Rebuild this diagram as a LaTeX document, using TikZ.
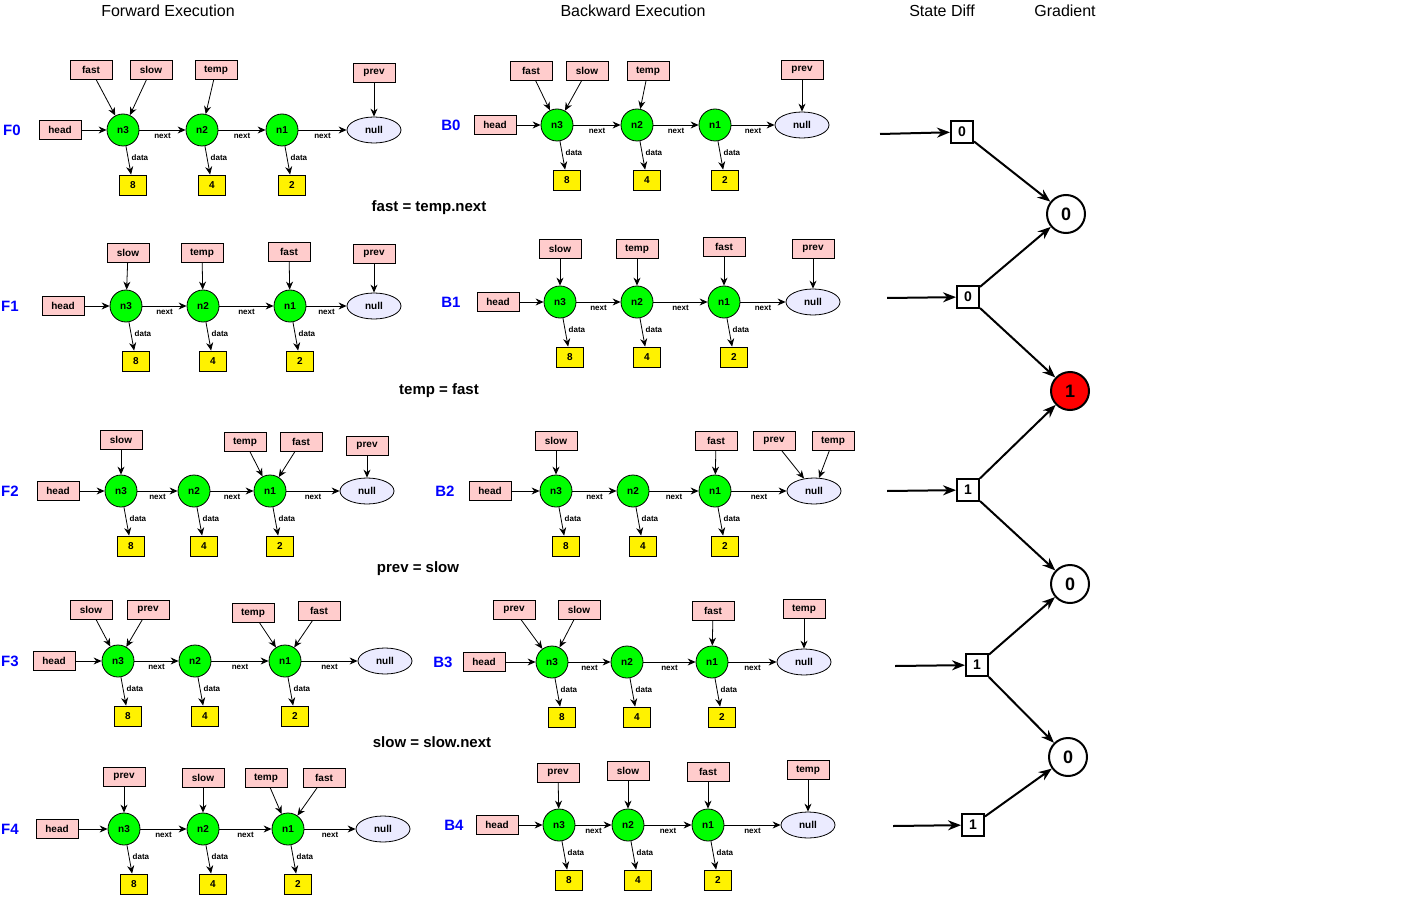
\documentclass[tikz,border=0pt]{standalone}
\usepackage{fontspec}
\setmainfont{Liberation Sans}
\usetikzlibrary{arrows.meta,shapes.geometric}
\tikzset{
    var-box/.style = {draw, fill=pink!80, thick, minimum width=42pt, minimum height=19pt, inner sep=1pt, font=\bfseries\fontsize{10}{10}\selectfont},
    list-node/.style = {draw, fill=green, circle, thick, minimum size=32pt, inner sep=0pt, font=\bfseries\fontsize{10}{10}\selectfont},
    null-node/.style = {draw, fill=blue!8, ellipse, thick, minimum width=54pt, minimum height=26pt, inner sep=0pt, font=\bfseries\fontsize{10}{10}\selectfont},
    data-box/.style = {draw, fill=yellow, thick, minimum width=27pt, minimum height=20pt, inner sep=0pt, font=\bfseries\fontsize{10}{10}\selectfont},
    row-label/.style = {text=blue, font=\bfseries\fontsize{15}{15}\selectfont},
    link/.style = {-{Stealth[length=8pt,width=7pt]}, thick},
    edge-text/.style = {font=\bfseries\fontsize{8}{8}\selectfont},
    diff-box/.style = {draw, line width=2pt, minimum size=22pt, inner sep=0pt, font=\bfseries\fontsize{14}{14}\selectfont},
    grad-node/.style = {draw, circle, line width=2pt, minimum size=38pt, inner sep=0pt, font=\bfseries\fontsize{18}{18}\selectfont},
    flow/.style = {-{Stealth[length=13pt,width=10pt]}, line width=2pt},
}
% one list row: name, label x, head, n3, n2, n1, null x, y
\newcommand{\lst}[8]{
  \node[row-label] (#1) at (#2,#8) {#1};
  \node[var-box] (#1h) at (#3,#8) {head};
  \node[list-node] (#1n3) at (#4,#8) {n3};
  \node[list-node] (#1n2) at (#5,#8) {n2};
  \node[list-node] (#1n1) at (#6,#8) {n1};
  \node[null-node] (#1nl) at (#7,#8) {null};
  \node[data-box] (#1d3) at (#4+10,#8+55) {8};
  \node[data-box] (#1d2) at (#5+10,#8+55) {4};
  \node[data-box] (#1d1) at (#6+10,#8+55) {2};
  \draw[link] (#1h) -- (#1n3);
  \draw[link] (#1n3) -- node[edge-text, below] {next} (#1n2);
  \draw[link] (#1n2) -- node[edge-text, below] {next} (#1n1);
  \draw[link] (#1n1) -- node[edge-text, below] {next} (#1nl);
  \foreach \k in {1,2,3}
    \draw[link] (#1n\k) -- node[edge-text, right, pos=0.4] {data} (#1d\k);
}
% pointer variable: name, text, x, y, target
\newcommand{\ptr}[5]{
  \node[var-box] (#1) at (#3,#4) {#2};
  \draw[link] (#1) -- (#5);
}

\begin{document}
\begin{tikzpicture}[x=1pt, y=-1pt]
\useasboundingbox (0,0) rectangle (1412,901);

% headers
\node[font=\fontsize{16}{16}\selectfont] (hf) at (168,11) {Forward Execution};
\node[font=\fontsize{16}{16}\selectfont] (hb) at (633,11) {Backward Execution};
\node[font=\fontsize{16}{16}\selectfont] (hs) at (942,11) {State Diff};
\node[font=\fontsize{16}{16}\selectfont] (hg) at (1065,11) {Gradient};

% forward rows
\lst{F0}{12}{60}{123}{202}{282}{374}{130}
\ptr{F0fast}{fast}{91}{70}{F0n3}
\ptr{F0slow}{slow}{151}{70}{F0n3}
\ptr{F0temp}{temp}{216}{70}{F0n2}
\ptr{F0prev}{prev}{374}{73}{F0nl}

\lst{F1}{10}{63}{126}{203}{290}{374}{306}
\ptr{F1slow}{slow}{128}{253}{F1n3}
\ptr{F1temp}{temp}{202}{253}{F1n2}
\ptr{F1fast}{fast}{289}{252}{F1n1}
\ptr{F1prev}{prev}{374}{254}{F1nl}

\lst{F2}{10}{58}{121}{194}{270}{367}{491}
\ptr{F2slow}{slow}{121}{440}{F2n3}
\ptr{F2temp}{temp}{245}{442}{F2n1}
\ptr{F2fast}{fast}{301}{442}{F2n1}
\ptr{F2prev}{prev}{367}{446}{F2nl}

\lst{F3}{10}{54}{118}{195}{285}{385}{661}
\ptr{F3slow}{slow}{91}{610}{F3n3}
\ptr{F3prev}{prev}{148}{610}{F3n3}
\ptr{F3temp}{temp}{253}{613}{F3n1}
\ptr{F3fast}{fast}{319}{611}{F3n1}

\lst{F4}{10}{57}{124}{203}{288}{383}{829}
\ptr{F4prev}{prev}{124}{777}{F4n3}
\ptr{F4slow}{slow}{203}{778}{F4n2}
\ptr{F4temp}{temp}{266}{778}{F4n1}
\ptr{F4fast}{fast}{324}{778}{F4n1}

% statements
\node[font=\bfseries\fontsize{15}{15}\selectfont] (s0) at (429,208) {fast = temp.next};
\node[font=\bfseries\fontsize{15}{15}\selectfont] (s1) at (439,391) {temp = fast};
\node[font=\bfseries\fontsize{15}{15}\selectfont] (s2) at (418,569) {prev = slow};
\node[font=\bfseries\fontsize{15}{15}\selectfont] (s3) at (432,742) {slow = slow.next};

% backward rows
\lst{B0}{451}{495}{557}{637}{715}{802}{125}
\ptr{B0fast}{fast}{531}{71}{B0n3}
\ptr{B0slow}{slow}{587}{71}{B0n3}
\ptr{B0temp}{temp}{648}{71}{B0n2}
\ptr{B0prev}{prev}{802}{70}{B0nl}

\lst{B1}{451}{498}{560}{637}{724}{813}{302}
\ptr{B1slow}{slow}{560}{249}{B1n3}
\ptr{B1temp}{temp}{637}{249}{B1n2}
\ptr{B1fast}{fast}{724}{247}{B1n1}
\ptr{B1prev}{prev}{813}{249}{B1nl}

\lst{B2}{445}{490}{556}{633}{715}{814}{491}
\ptr{B2slow}{slow}{556}{441}{B2n3}
\ptr{B2fast}{fast}{716}{441}{B2n1}
\ptr{B2prev}{prev}{774}{441}{B2nl}
\ptr{B2temp}{temp}{833}{441}{B2nl}

\lst{B3}{443}{484}{552}{627}{712}{804}{662}
\ptr{B3prev}{prev}{514}{610}{B3n3}
\ptr{B3slow}{slow}{579}{610}{B3n3}
\ptr{B3fast}{fast}{713}{611}{B3n1}
\ptr{B3temp}{temp}{804}{609}{B3nl}

\lst{B4}{454}{497}{559}{628}{708}{808}{825}
\ptr{B4prev}{prev}{558}{773}{B4n3}
\ptr{B4slow}{slow}{628}{771}{B4n2}
\ptr{B4fast}{fast}{708}{772}{B4n1}
\ptr{B4temp}{temp}{808}{770}{B4nl}

% state diff and gradient
\node[diff-box] (d0) at (962,132) {0};
\node[diff-box] (d1) at (968,297) {0};
\node[diff-box] (d2) at (968,490) {1};
\node[diff-box] (d3) at (977,665) {1};
\node[diff-box] (d4) at (973,825) {1};
\coordinate (i0) at (880,134);
\coordinate (i1) at (887,298);
\coordinate (i2) at (887,491);
\coordinate (i3) at (895,666);
\coordinate (i4) at (893,826);
\foreach \k in {0,...,4}
  \draw[flow] (i\k) -- (d\k);
\node[grad-node] (g0) at (1066,214) {0};
\node[grad-node, fill=red] (g1) at (1070,391) {1};
\node[grad-node] (g2) at (1070,584) {0};
\node[grad-node] (g3) at (1068,757) {0};
\draw[flow] (d0) -- (g0);
\draw[flow] (d1) -- (g0);
\draw[flow] (d1) -- (g1);
\draw[flow] (d2) -- (g1);
\draw[flow] (d2) -- (g2);
\draw[flow] (d3) -- (g2);
\draw[flow] (d3) -- (g3);
\draw[flow] (d4) -- (g3);
\end{tikzpicture}
\end{document}
